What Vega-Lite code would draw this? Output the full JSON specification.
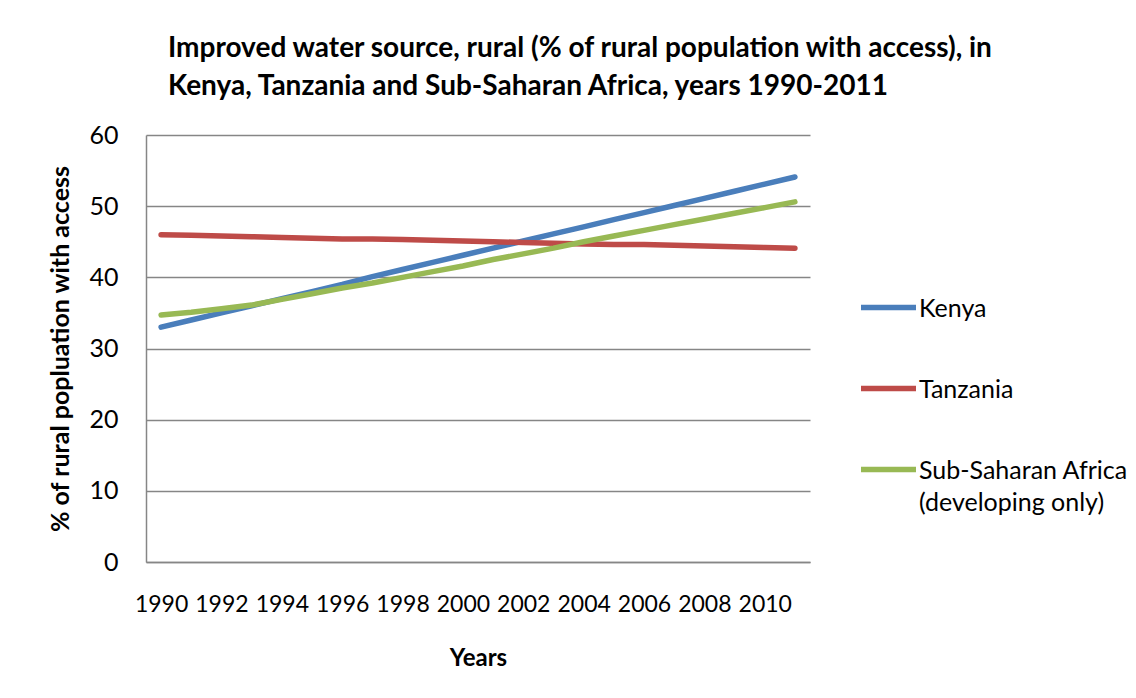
{
  "$schema": "https://vega.github.io/schema/vega-lite/v6.json",
  "width": 664,
  "height": 427,
  "autosize": {"type": "none"},
  "padding": {"left": 146, "top": 135, "right": 326, "bottom": 136},
  "background": "white",
  "config": {
    "font": "Lato",
    "view": {"stroke": null}
  },
  "title": {
    "text": ["Improved water source, rural (% of rural population with access), in", "Kenya, Tanzania and Sub-Saharan Africa, years 1990-2011"],
    "anchor": "start",
    "frame": "group",
    "dx": 22,
    "offset": 22,
    "fontSize": 28,
    "fontWeight": "bold",
    "color": "#000000",
    "lineHeight": 38
  },
  "data": {
    "values": [
      {"year": 1990, "country": "Kenya", "value": 33.0},
      {"year": 1991, "country": "Kenya", "value": 34.0},
      {"year": 1992, "country": "Kenya", "value": 35.0},
      {"year": 1993, "country": "Kenya", "value": 36.0},
      {"year": 1994, "country": "Kenya", "value": 37.0},
      {"year": 1995, "country": "Kenya", "value": 38.0},
      {"year": 1996, "country": "Kenya", "value": 39.0},
      {"year": 1997, "country": "Kenya", "value": 40.1},
      {"year": 1998, "country": "Kenya", "value": 41.1},
      {"year": 1999, "country": "Kenya", "value": 42.1},
      {"year": 2000, "country": "Kenya", "value": 43.1},
      {"year": 2001, "country": "Kenya", "value": 44.1},
      {"year": 2002, "country": "Kenya", "value": 45.1},
      {"year": 2003, "country": "Kenya", "value": 46.1},
      {"year": 2004, "country": "Kenya", "value": 47.1},
      {"year": 2005, "country": "Kenya", "value": 48.1},
      {"year": 2006, "country": "Kenya", "value": 49.1},
      {"year": 2007, "country": "Kenya", "value": 50.1},
      {"year": 2008, "country": "Kenya", "value": 51.1},
      {"year": 2009, "country": "Kenya", "value": 52.1},
      {"year": 2010, "country": "Kenya", "value": 53.1},
      {"year": 2011, "country": "Kenya", "value": 54.1},
      {"year": 1990, "country": "Tanzania", "value": 46.0},
      {"year": 1991, "country": "Tanzania", "value": 45.9},
      {"year": 1992, "country": "Tanzania", "value": 45.8},
      {"year": 1993, "country": "Tanzania", "value": 45.7},
      {"year": 1994, "country": "Tanzania", "value": 45.6},
      {"year": 1995, "country": "Tanzania", "value": 45.5},
      {"year": 1996, "country": "Tanzania", "value": 45.4},
      {"year": 1997, "country": "Tanzania", "value": 45.4},
      {"year": 1998, "country": "Tanzania", "value": 45.3},
      {"year": 1999, "country": "Tanzania", "value": 45.2},
      {"year": 2000, "country": "Tanzania", "value": 45.1},
      {"year": 2001, "country": "Tanzania", "value": 45.0},
      {"year": 2002, "country": "Tanzania", "value": 44.9},
      {"year": 2003, "country": "Tanzania", "value": 44.8},
      {"year": 2004, "country": "Tanzania", "value": 44.7},
      {"year": 2005, "country": "Tanzania", "value": 44.6},
      {"year": 2006, "country": "Tanzania", "value": 44.6},
      {"year": 2007, "country": "Tanzania", "value": 44.5},
      {"year": 2008, "country": "Tanzania", "value": 44.4},
      {"year": 2009, "country": "Tanzania", "value": 44.3},
      {"year": 2010, "country": "Tanzania", "value": 44.2},
      {"year": 2011, "country": "Tanzania", "value": 44.1},
      {"year": 1990, "country": "Sub-Saharan Africa (developing only)", "value": 34.7},
      {"year": 1991, "country": "Sub-Saharan Africa (developing only)", "value": 35.1},
      {"year": 1992, "country": "Sub-Saharan Africa (developing only)", "value": 35.6},
      {"year": 1993, "country": "Sub-Saharan Africa (developing only)", "value": 36.1},
      {"year": 1994, "country": "Sub-Saharan Africa (developing only)", "value": 36.9},
      {"year": 1995, "country": "Sub-Saharan Africa (developing only)", "value": 37.7},
      {"year": 1996, "country": "Sub-Saharan Africa (developing only)", "value": 38.5},
      {"year": 1997, "country": "Sub-Saharan Africa (developing only)", "value": 39.2},
      {"year": 1998, "country": "Sub-Saharan Africa (developing only)", "value": 40.0},
      {"year": 1999, "country": "Sub-Saharan Africa (developing only)", "value": 40.8},
      {"year": 2000, "country": "Sub-Saharan Africa (developing only)", "value": 41.6},
      {"year": 2001, "country": "Sub-Saharan Africa (developing only)", "value": 42.5},
      {"year": 2002, "country": "Sub-Saharan Africa (developing only)", "value": 43.3},
      {"year": 2003, "country": "Sub-Saharan Africa (developing only)", "value": 44.1},
      {"year": 2004, "country": "Sub-Saharan Africa (developing only)", "value": 45.0},
      {"year": 2005, "country": "Sub-Saharan Africa (developing only)", "value": 45.8},
      {"year": 2006, "country": "Sub-Saharan Africa (developing only)", "value": 46.6},
      {"year": 2007, "country": "Sub-Saharan Africa (developing only)", "value": 47.4},
      {"year": 2008, "country": "Sub-Saharan Africa (developing only)", "value": 48.2},
      {"year": 2009, "country": "Sub-Saharan Africa (developing only)", "value": 49.0},
      {"year": 2010, "country": "Sub-Saharan Africa (developing only)", "value": 49.8},
      {"year": 2011, "country": "Sub-Saharan Africa (developing only)", "value": 50.6}
    ]
  },
  "mark": {"type": "line", "strokeWidth": 5.5, "strokeCap": "round", "strokeJoin": "round"},
  "encoding": {
    "x": {
      "field": "year",
      "type": "ordinal",
      "scale": {"type": "point", "padding": 0.5},
      "axis": {
        "values": [1990, 1992, 1994, 1996, 1998, 2000, 2002, 2004, 2006, 2008, 2010],
        "labelAngle": 0,
        "labelFontSize": 23,
        "labelColor": "#000000",
        "labelPadding": 31,
        "ticks": false,
        "domain": true,
        "domainColor": "#868686",
        "domainWidth": 1.5,
        "title": "Years",
        "titleFontSize": 24,
        "titleFontWeight": "bold",
        "titleColor": "#000000",
        "titlePadding": 30,
        "grid": false
      }
    },
    "y": {
      "field": "value",
      "type": "quantitative",
      "scale": {"domain": [0, 60], "nice": false, "zero": true},
      "axis": {
        "values": [0, 10, 20, 30, 40, 50, 60],
        "labelFontSize": 25,
        "labelColor": "#000000",
        "labelPadding": 28,
        "ticks": false,
        "domain": true,
        "domainColor": "#868686",
        "domainWidth": 1.5,
        "grid": true,
        "gridColor": "#868686",
        "gridWidth": 1.5,
        "title": "% of rural popluation with access",
        "titleFontSize": 25,
        "titleFontWeight": "bold",
        "titleColor": "#000000",
        "titlePadding": 15
      }
    },
    "color": {
      "field": "country",
      "type": "nominal",
      "scale": {
        "domain": ["Kenya", "Tanzania", "Sub-Saharan Africa (developing only)"],
        "range": ["#4A7EBB", "#BE4B48", "#98B954"]
      },
      "legend": {
        "title": null,
        "orient": "none",
        "legendX": 712,
        "legendY": 142,
        "padding": 0,
        "symbolType": "stroke",
        "symbolSize": 3025,
        "symbolStrokeWidth": 5.5,
        "labelFontSize": 25,
        "labelColor": "#000000",
        "labelOffset": 0,
        "labelLimit": 400,
        "labelBaseline": "alphabetic",
        "rowPadding": 36,
        "labelExpr": "datum.label === 'Sub-Saharan Africa (developing only)' ? ['Sub-Saharan Africa', '(developing only)'] : datum.label",
        "encoding": {"labels": {"dy": {"value": 9}, "lineHeight": {"value": 32}}}
      }
    }
  }
}
